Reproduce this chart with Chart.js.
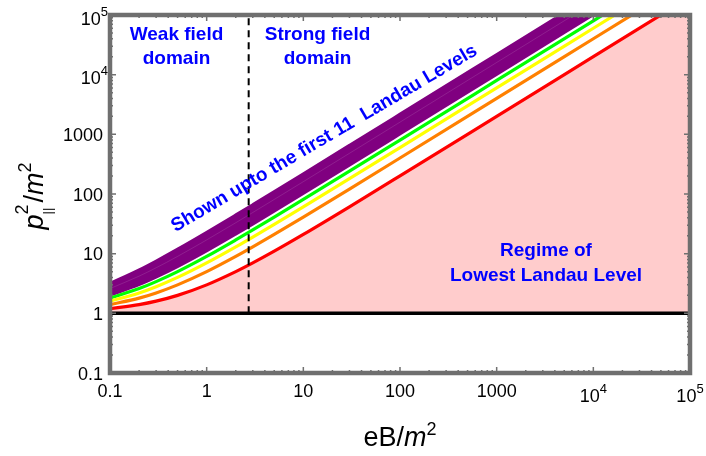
<!DOCTYPE html>
<html><head><meta charset="utf-8">
<script src="https://cdn.jsdelivr.net/npm/chart.js@4"></script>
<style>html,body{margin:0;padding:0;background:#fff}canvas{display:block}</style>
</head><body>
<canvas id="c" width="706" height="456"></canvas>
<script>
// eB/m^2 sample points
const xValues = [0.1, 0.2, 0.3, 0.5, 1, 2, 3, 5, 10, 30, 100, 1000, 10000, 100000];
// p_||^2/m^2 for Landau levels n = 1 .. 11
const level1  = [1.2, 1.4, 1.6, 2,  3,  5,  7,  11,  21,  61,  201,  2001,  20001,  200001];
const level2  = [1.4, 1.8, 2.2, 3,  5,  9,  13, 21,  41,  121, 401,  4001,  40001,  400001];
const level3  = [1.6, 2.2, 2.8, 4,  7,  13, 19, 31,  61,  181, 601,  6001,  60001,  600001];
const level4  = [1.8, 2.6, 3.4, 5,  9,  17, 25, 41,  81,  241, 801,  8001,  80001,  800001];
const level5  = [2.0, 3.0, 4.0, 6,  11, 21, 31, 51,  101, 301, 1001, 10001, 100001, 1000001];
const level6  = [2.2, 3.4, 4.6, 7,  13, 25, 37, 61,  121, 361, 1201, 12001, 120001, 1200001];
const level7  = [2.4, 3.8, 5.2, 8,  15, 29, 43, 71,  141, 421, 1401, 14001, 140001, 1400001];
const level8  = [2.6, 4.2, 5.8, 9,  17, 33, 49, 81,  161, 481, 1601, 16001, 160001, 1600001];
const level9  = [2.8, 4.6, 6.4, 10, 19, 37, 55, 91,  181, 541, 1801, 18001, 180001, 1800001];
const level10 = [3.0, 5.0, 7.0, 11, 21, 41, 61, 101, 201, 601, 2001, 20001, 200001, 2000001];
const level11 = [3.2, 5.4, 7.6, 12, 23, 45, 67, 111, 221, 661, 2201, 22001, 220001, 2200001];
// horizontal line p^2/m^2 = 1 and the weak/strong boundary eB/m^2 ~ e
const lowestLineX = [0.1, 100000];
const lowestLineY = [1, 1];
const boundaryX = [2.72, 2.72];
const boundaryY = [1, 100000];
// axis ticks
const xTickValues = [0.1, 1, 10, 100, 1000, 10000, 100000];
const xTickLabels = ['0.1', '1', '10', '100', '1000', '10^4', '10^5'];
const yTickValues = [0.1, 1, 10, 100, 1000, 10000, 100000];
const yTickLabels = ['0.1', '1', '10', '100', '1000', '10^4', '10^5'];

const pts = (xs, ys) => xs.map((x, i) => ({x, y: ys[i]}));
const FONT = '"Liberation Sans", Arial, Helvetica, sans-serif';
const BLUE = '#0000ff';

const line = (ys, color, extra) => Object.assign({
  data: pts(xValues, ys), borderColor: color, borderWidth: 3.2, pointRadius: 0,
  fill: false, cubicInterpolationMode: 'monotone'
}, extra || {});

const purple = '#800080';
const datasets = [
  {data: pts(boundaryX, boundaryY), borderColor: '#000', borderWidth: 2, borderDash: [7, 5], pointRadius: 0, fill: false},
  {data: pts(lowestLineX, lowestLineY), borderColor: '#000', borderWidth: 3.5, pointRadius: 0, fill: false},
  line(level1, '#ff0000', {fill: {value: 1}, backgroundColor: '#ffcccc'}),
  line(level2, '#ff8000'),
  line(level3, '#ffff00'),
  line(level4, '#00ff00'),
  line(level8, 'rgba(255,255,255,0.2)', {borderWidth: 0.6}),
  line(level5, purple, {borderWidth: 2.5}),
  line(level6, purple, {borderWidth: 2.5}),
  line(level7, purple, {borderWidth: 2.5}),
  line(level8, purple, {borderWidth: 2.5}),
  line(level9, purple, {borderWidth: 2.5}),
  line(level10, purple, {borderWidth: 2.5}),
  line(level11, purple, {borderWidth: 2.5, fill: 7, backgroundColor: purple})
];

function drawParts(ctx, parts, x, y, align) {
  let w = 0;
  parts.forEach(p => { ctx.font = p.font; p.w = ctx.measureText(p.t).width; w += p.w; });
  let cx = align === 'right' ? x - w : (align === 'center' ? x - w / 2 : x);
  ctx.textAlign = 'left'; ctx.textBaseline = 'alphabetic';
  parts.forEach(p => { ctx.font = p.font; ctx.fillText(p.t, cx, y + (p.dy || 0)); cx += p.w; });
}
function tickParts(label) {
  const m = label.split('^');
  if (m.length === 1) return {exp: false, parts: [{t: label, font: '18px ' + FONT}]};
  return {exp: true, parts: [{t: m[0], font: '18px ' + FONT}, {t: m[1], font: '13px ' + FONT, dy: -9}]};
}

const decor = {
  id: 'decor',
  afterDatasetsDraw(chart) {
    const ctx = chart.ctx, ca = chart.chartArea;
    const xs = chart.scales.x, ys = chart.scales.y;
    ctx.save();
    // tick marks
    ctx.strokeStyle = '#707070'; ctx.lineWidth = 1.5;
    ctx.beginPath();
    for (let d = -1; d <= 5; d++) {
      for (let k = 1; k <= 9; k++) {
        const v = k * Math.pow(10, d);
        if (v > 100000 * 1.0001) continue;
        const len = k === 1 ? 6 : 3;
        const px = xs.getPixelForValue(v), py = ys.getPixelForValue(v);
        ctx.moveTo(px, ca.bottom); ctx.lineTo(px, ca.bottom - len);
        ctx.moveTo(px, ca.top); ctx.lineTo(px, ca.top + len);
        ctx.moveTo(ca.left, py); ctx.lineTo(ca.left + len, py);
        ctx.moveTo(ca.right, py); ctx.lineTo(ca.right - len, py);
      }
    }
    ctx.stroke();
    // frame
    ctx.lineWidth = 4.5; ctx.strokeStyle = '#6f6f6f';
    ctx.strokeRect(ca.left, ca.top, ca.right - ca.left, ca.bottom - ca.top);

    // tick labels
    ctx.fillStyle = '#000';
    xTickValues.forEach((v, i) => {
      const tp = tickParts(xTickLabels[i]);
      const px = xs.getPixelForValue(v);
      drawParts(ctx, tp.parts, px, tp.exp ? ca.bottom + 29 : ca.bottom + 24, 'center');
    });
    yTickValues.forEach((v, i) => {
      const tp = tickParts(yTickLabels[i]);
      const py = ys.getPixelForValue(v);
      if (tp.exp) drawParts(ctx, tp.parts, ca.left - 2, py + 9.5, 'right');
      else drawParts(ctx, tp.parts, ca.left - 7, py + 6.5, 'right');
    });

    // axis titles
    const F = 27;
    drawParts(ctx, [
      {t: 'eB/', font: F + 'px ' + FONT},
      {t: 'm', font: 'italic ' + F + 'px ' + FONT},
      {t: '2', font: Math.round(F * 0.65) + 'px ' + FONT, dy: -11}
    ], (ca.left + ca.right) / 2, 446, 'center');

    ctx.save();
    ctx.translate(43, 196);
    ctx.rotate(-Math.PI / 2);
    const G = 27;
    const pF = 'italic ' + G + 'px ' + FONT;
    ctx.font = pF; const wp = ctx.measureText('p').width;
    const supF = Math.round(G * 0.65) + 'px ' + FONT;
    const subF = '13px ' + FONT;
    ctx.font = supF; const w2 = ctx.measureText('2').width;
    ctx.font = G + 'px ' + FONT; const ws = ctx.measureText('/').width;
    ctx.font = pF; const wm = ctx.measureText('m').width;
    const total = wp + w2 + 2 + ws + wm + w2;
    let cx = -total / 2;
    ctx.textAlign = 'left'; ctx.textBaseline = 'alphabetic';
    ctx.font = pF; ctx.fillText('p', cx, 0); cx += wp;
    ctx.font = subF; ctx.fillText('||', cx, 9);
    ctx.font = supF; ctx.fillText('2', cx, -15); cx += w2 + 2;
    ctx.font = G + 'px ' + FONT; ctx.fillText('/', cx, 0); cx += ws;
    ctx.font = pF; ctx.fillText('m', cx, 0); cx += wm;
    ctx.font = supF; ctx.fillText('2', cx, -12);
    ctx.restore();

    // annotations
    ctx.fillStyle = BLUE; ctx.font = 'bold 19px ' + FONT;
    ctx.textAlign = 'center'; ctx.textBaseline = 'alphabetic';
    ctx.fillText('Weak field', 176.5, 40);
    ctx.fillText('domain', 176.5, 64);
    ctx.fillText('Strong field', 317.5, 40);
    ctx.fillText('domain', 317.5, 64);
    ctx.fillText('Regime of', 546, 256);
    ctx.fillText('Lowest Landau Level', 546, 281);
    ctx.save();
    ctx.translate(327, 143);
    ctx.rotate(-30.5 * Math.PI / 180);
    ctx.fillText('Shown upto the first 11  Landau Levels', 0, 0);
    ctx.restore();
    ctx.restore();
  }
};

new Chart(document.getElementById('c'), {
  type: 'line',
  data: {datasets},
  options: {
    responsive: false,
    animation: false,
    layout: {padding: {left: 110, right: 16, top: 15, bottom: 83}},
    scales: {
      x: {type: 'logarithmic', min: 0.1, max: 100000, display: false},
      y: {type: 'logarithmic', min: 0.1, max: 100000, display: false}
    },
    plugins: {legend: {display: false}, tooltip: {enabled: false}}
  },
  plugins: [decor]
});
</script>
</body></html>
